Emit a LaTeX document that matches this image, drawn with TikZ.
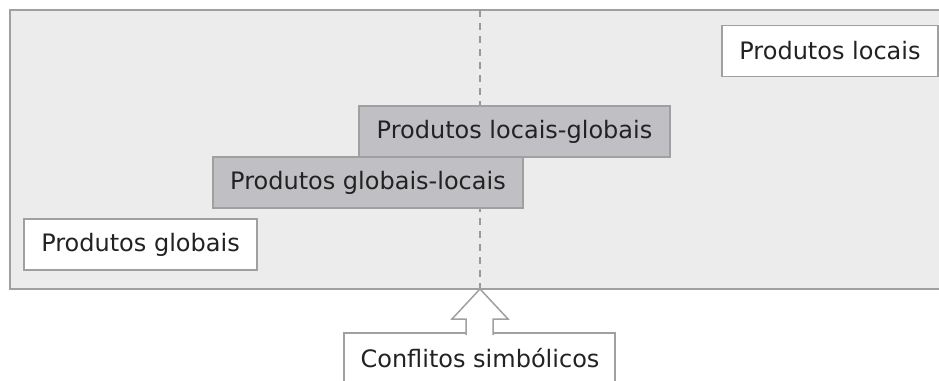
\documentclass[tikz,border=0pt]{standalone}
\usepackage{fontspec}
\setmainfont{DejaVu Sans}
\definecolor{bgfill}{HTML}{ECECEC}
\definecolor{edge}{HTML}{A0A0A0}
\definecolor{dashc}{HTML}{999999}
\definecolor{midfill}{HTML}{C0C0C4}
\definecolor{txt}{HTML}{222222}
\begin{document}
\begin{tikzpicture}[x=1pt,y=-1pt,
  box/.style={draw=edge, line width=1.5pt, minimum height=51pt, inner sep=0pt, text=txt,
    font=\fontsize{24}{28}\selectfont},
  whitebox/.style={box, fill=white},
  graybox/.style={box, fill=midfill},
  divider/.style={draw=dashc, line width=2.5pt, dash pattern=on 7pt off 6pt}]
\useasboundingbox (0,0) rectangle (939,380);
% background panel
\fill[bgfill] (10,10) rectangle (945,289);
\draw[edge, line width=1.5pt] (945,10) -- (10,10) -- (10,289) -- (945,289);
% dashed divider
\coordinate (top) at (480,10);
\coordinate (tip) at (480,289);
\draw[divider] (top) -- (tip);
% boxes
\node[whitebox, minimum width=216pt] (locais) at (830,51) {Produtos locais};
\node[graybox, minimum width=311pt] (lg) at (514.5,131.5) {Produtos locais-globais};
\node[graybox, minimum width=310pt] (gl) at (368,182.5) {Produtos globais-locais};
\node[whitebox, minimum width=233pt] (globais) at (140.5,244.5) {Produtos globais};
% conflitos box (cut off at bottom)
\node[text=txt, font=\fontsize{24}{28}\selectfont, inner sep=0pt] (conf) at (480,358.5) {Conflitos simbólicos};
\draw[edge, line width=1.5pt] (466,333) -- (344,333) -- (344,390) (615,390) -- (615,333) -- (493,333);
% hollow arrow
\draw[edge, line width=1.5pt, fill=white] (466,335) -- (466,319) -- (452,319) -- (tip) -- (508,319) -- (493,319) -- (493,335);
\fill[white] (467,320) rectangle (492,336);
\end{tikzpicture}
\end{document}
